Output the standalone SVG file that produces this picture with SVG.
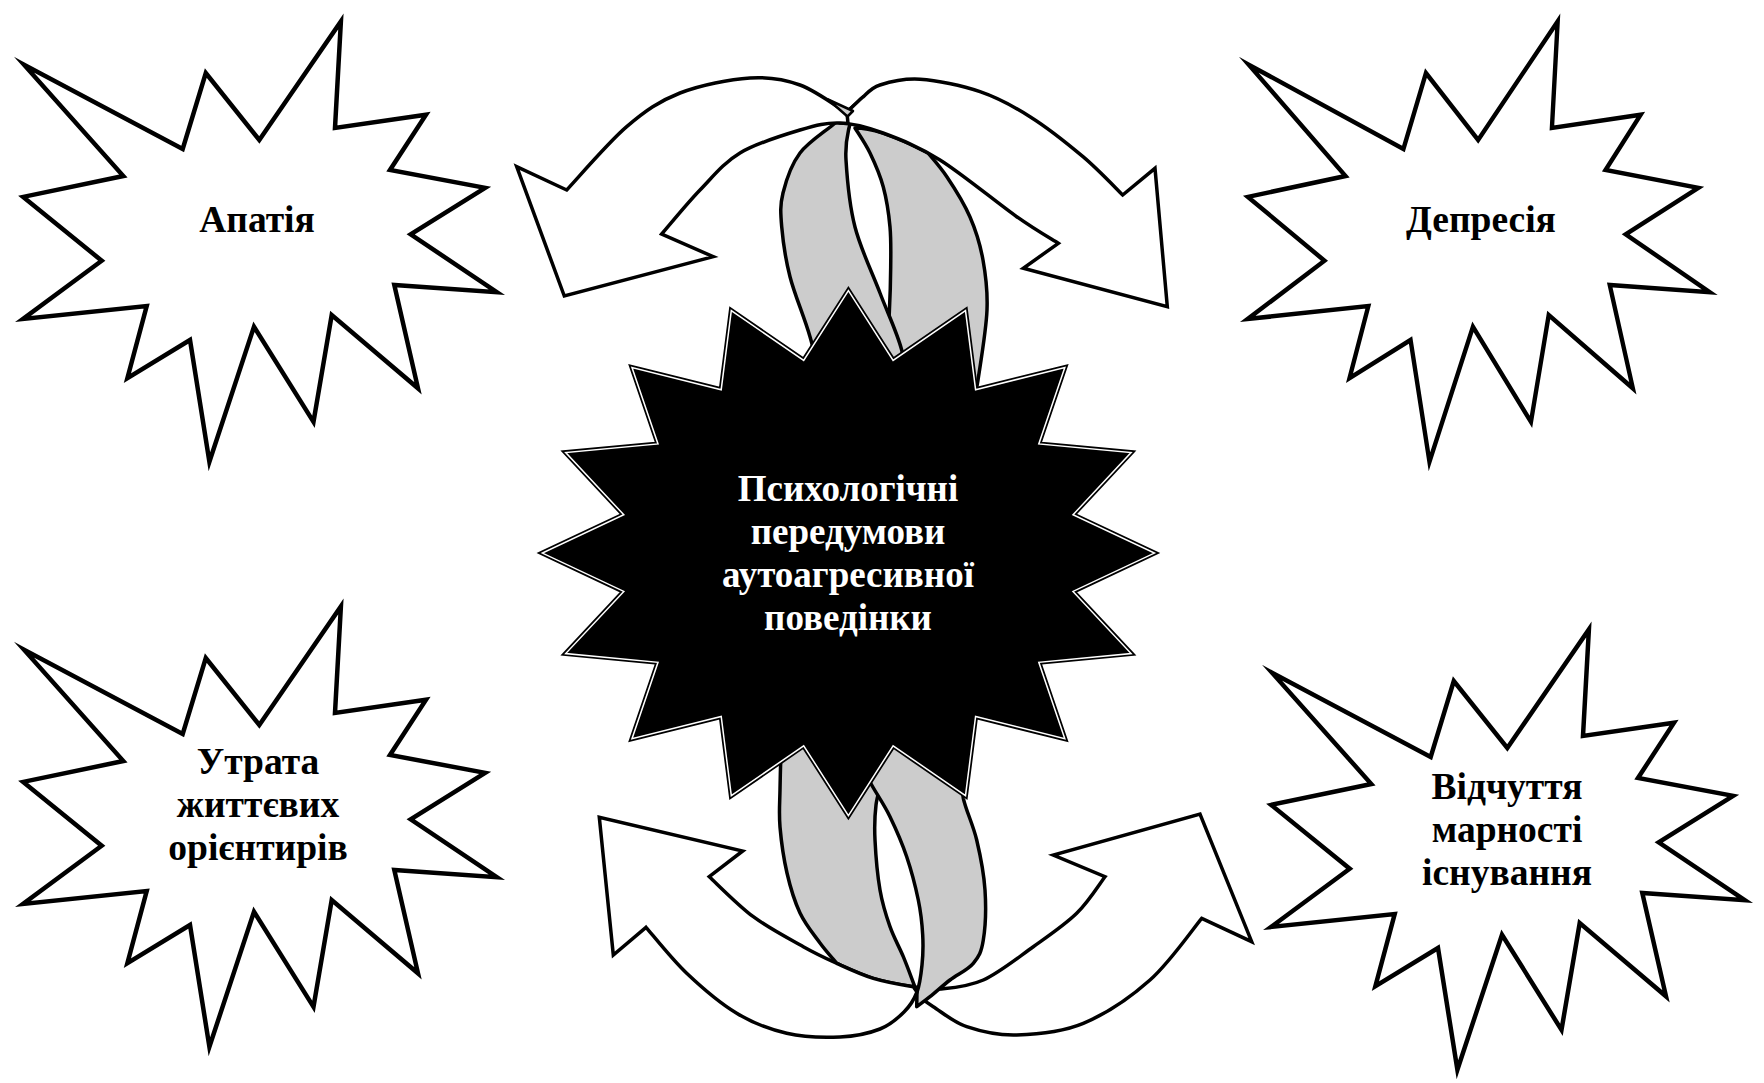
<svg xmlns="http://www.w3.org/2000/svg" width="1764" height="1083" viewBox="0 0 1764 1083">
<defs>
<style>
.st{fill:#fff;stroke:#000;stroke-width:4.5;stroke-linejoin:miter;stroke-miterlimit:10}
.ar{fill:#fff;stroke:#000;stroke-width:3.5;stroke-linejoin:miter;stroke-miterlimit:10}
.gr{fill:#ccc;stroke:#000;stroke-width:3.5;stroke-linejoin:round}
.t{font-family:"Liberation Serif","Times New Roman",serif;font-weight:bold;font-size:37.5px;text-anchor:middle;fill:#000}
.tw{font-family:"Liberation Serif","Times New Roman",serif;font-weight:bold;font-size:37px;text-anchor:middle;fill:#fff}
</style>
<polygon id="burst" points="24,64.7 182.7,149 205.8,73.1 259.3,140 340.9,21.4 335,128 426,114.7 390,170 485.1,187.8 410.7,234.3 496.8,292.2 394.3,285 418,388.3 331.7,315 313.5,421.9 254,326.7 209.4,461.8 190,340 127.4,378.1 146.7,306 23,319 101.7,260.7 23.2,196.9 123.3,176"/>
<polygon id="core" points="848.4,290.6 893.1,360.4 965.5,310.6 975.6,389.7 1064.8,367.5 1038.8,443.9 1131.1,452.6 1073,514.8 1154.4,553.1 1073,591.4 1131.1,653.6 1038.8,662.3 1064.8,738.7 975.6,716.5 965.5,795.6 893.1,745.8 848.4,815.6 803.7,745.8 731.3,795.6 721.2,716.5 632,738.7 658,662.3 565.7,653.6 623.8,591.4 542.4,553.1 623.8,514.8 565.7,452.6 658,443.9 632,367.5 721.2,389.7 731.3,310.6 803.7,360.4"/>
</defs>
<rect width="1764" height="1083" fill="#fff"/>
<g id="connectors">
<path class="gr" d="M 855,128 C 857.5,132.2 865.3,143.2 870,153 C 874.7,162.8 880,174.7 883.3,187 C 886.6,199.3 888.8,213.7 890,227 C 891.2,240.3 890.8,252.7 890.7,267 C 890.6,281.3 890.1,297.5 889.3,313 C 888.5,328.5 886.9,343.8 886,360 C 885.1,376.2 884.3,401.7 884,410 L 972,410 C 973,405 975.5,396.7 978,380 C 980.5,363.3 986.2,330 987,310 C 987.8,290 985.8,275.5 983,260 C 980.2,244.5 976,230.8 970,217 C 964,203.2 954.2,187.7 947,177 C 939.8,166.3 931.2,157 928,153 C 915,146 895,137 883,133 C 870,129 860,128 855,128 Z"/>
<path class="gr" d="M 863,97 C 855.8,103.1 847.2,112.4 836.7,121.7 C 826.2,131 809,141.1 800,153 C 791.1,164.9 786,180.7 783,193 C 780,205.3 780.5,212.7 781.7,226.7 C 782.9,240.7 785.3,258.4 790,276.7 C 794.7,295 804,316.1 810,336.7 C 816,357.3 823.3,389.4 826,400 L 908,400 C 907,391.7 906.4,367.8 901.7,350 C 897,332.2 887.8,313.5 880,293 C 872.2,272.5 860.7,249.2 855,227 C 849.3,204.8 847,176.5 846,160 C 845,143.5 847,137 849,128 C 851,119 856.5,109.7 858,106 Z"/>
<path class="ar" d="M 1122.7,195 L 1155,168.3 L 1167.3,306.7 L 1023.3,268.3 L 1058.3,243.3 C 1051.4,238.9 1036.4,230.6 1016.7,216.7 C 997,202.8 962.3,174 940,160 C 917.7,146 899.7,139.2 883,133 C 866.3,126.8 853.8,123.5 840,123 L 836.7,121.7 C 847.2,112.4 855.8,103.1 863,97 C 865.8,95 870.5,88 880,85 C 889.5,82 903.3,78.2 920,79.3 C 936.7,80.4 961.7,85.5 980,91.7 C 998.3,97.9 1012.8,105.9 1030,116.7 C 1047.2,127.5 1067.6,143.7 1083,156.7 C 1098.5,169.8 1116.1,188.6 1122.7,195 Z"/>
<path class="ar" d="M 566.7,190 L 516.7,166.7 L 564.3,296 L 713.3,256.7 L 661.7,234 C 668.1,226.7 686.9,203.5 700,190 C 713.05,176.5 723.3,163 740,153 C 756.7,143 783.3,135 800,130 C 816.7,125 826.2,122.5 840,123 L 848,123.5 L 847,113 C 839.2,108.3 816.2,90.8 800,85 C 783.8,79.2 770,76.7 750,78 C 730,79.3 700.6,84.9 680,93 C 659.4,101.1 645.6,110.5 626.7,126.7 C 607.8,142.9 576.7,179.5 566.7,190 Z"/>
<path d="M 828,99.5 L 853,111 L 847.5,116.5 Q 839,109 828,99.5 Z" fill="#ccc" stroke="#000" stroke-width="2.5" stroke-linejoin="round"/>
<path class="ar" d="M 1201.7,918.3 L 1251.7,941.7 L 1200,814 L 1053.3,855 L 1105,876.7 C 1100.3,882.8 1088.7,901.6 1076.7,913.3 C 1064.7,925 1048.9,935.6 1033.3,946.7 C 1017.7,957.8 998.9,973 983.3,980 C 967.7,987 951.7,987.9 940,989 C 928.3,990.1 924.4,988.5 913.3,986.7 L 918,996 C 920.6,997.8 925.2,1001.6 933.3,1006.7 C 941.4,1011.8 952.8,1021.9 966.7,1026.7 C 980.6,1031.4 997.3,1035.6 1016.7,1035 C 1036.1,1034.4 1061.1,1032.5 1083.3,1023.3 C 1105.5,1014.1 1130.3,997.5 1150,980 C 1169.7,962.5 1193.1,928.6 1201.7,918.3 Z"/>
<path class="gr" d="M 781,735 L 781,750 C 780.8,756.7 780.2,777.2 780,790 C 779.8,802.8 778.8,813.2 780,827 C 781.2,840.8 783.7,858.7 787,873 C 790.3,887.3 794.5,901.3 800,913 C 805.5,924.7 813.9,934.6 820,943 C 826.1,951.4 833.9,959.7 836.7,963.3 C 848.4,968.6 860.5,974.4 873.3,978.3 C 886.1,982.2 902.2,984.9 913.3,986.7 L 915,987 C 913,982 907.5,966.8 903.3,956.7 C 899.1,946.6 893.9,937.8 890,926.7 C 886.1,915.6 882.5,904.5 880,890 C 877.5,875.5 875.7,854.2 875,840 C 874.3,825.8 874.8,815 876,805 C 877.2,795 880,789.2 882,780 C 884,770.8 887,755 888,750 L 888,735 Z"/>
<path class="gr" d="M 855,740 L 858,760 C 860.3,764.2 866.4,775.6 871.7,785 C 877,794.5 884.2,804.7 890,816.7 C 895.8,828.7 902,842.8 906.7,856.7 C 911.4,870.6 915.6,887 918.3,900 C 921,913 922.1,924.2 922.7,935 C 923.3,945.8 923,955.5 922,965 C 921,974.5 920,984.2 917,992 L 916.7,1006.7 C 918.9,1005 924.4,1001.2 930,996.7 C 935.6,992.2 942.8,985.6 950,980 C 957.2,974.4 967.8,970 973.3,963.3 C 978.9,956.6 981.4,952.2 983.3,940 C 985.3,927.8 986.1,906.7 985,890 C 983.9,873.3 980.3,855.3 976.7,840 C 973.1,824.7 966.4,811.6 963.3,798.3 C 961.5,785.6 958.9,766.4 958,760 L 960,740 Z"/>
<path class="ar" d="M 646,927.3 L 613.3,955 L 599.3,817.3 L 742.7,851 L 709.3,876.7 C 716.6,883.4 737.6,905 753.3,916.7 C 769,928.4 789.4,938.9 803.3,946.7 C 817.2,954.5 825,958 836.7,963.3 C 848.4,968.6 860.5,974.4 873.3,978.3 C 886.1,982.2 902.2,984.9 913.3,986.7 L 917,992 C 914,999.8 910.2,1005.8 904,1012 C 897.8,1018.2 890.7,1024.8 880,1029 C 869.3,1033.2 855.6,1036.3 840,1037 C 824.5,1037.7 803.9,1037.3 786.7,1033.3 C 769.5,1029.4 753.4,1023.3 736.7,1013.3 C 720,1003.3 701.8,987.6 686.7,973.3 C 671.6,959 652.8,935 646,927.3 Z"/>
</g>
<g id="node-center">
<use href="#core" fill="#000" stroke="#000" stroke-width="5" stroke-linejoin="miter"/>
<use href="#core" fill="none" stroke="#fff" stroke-width="1.5" stroke-linejoin="miter"/>
<text class="tw" x="848" y="501">Психологічні</text>
<text class="tw" x="848" y="544">передумови</text>
<text class="tw" x="848" y="587">аутоагресивної</text>
<text class="tw" x="848" y="630">поведінки</text>
</g>
<g id="node-apatia">
<use href="#burst" class="st"/>
<text class="t" x="257" y="232">Апатія</text>
</g>
<g id="node-depresiia">
<use href="#burst" class="st" transform="matrix(0.975 0 0 1 1225.3 0)"/>
<text class="t" x="1481" y="232">Депресія</text>
</g>
<g id="node-utrata">
<use href="#burst" class="st" transform="translate(0,585)"/>
<text class="t" x="258" y="774">Утрата</text>
<text class="t" x="258" y="817">життєвих</text>
<text class="t" x="258" y="860">орієнтирів</text>
</g>
<g id="node-vidchuttia">
<use href="#burst" class="st" transform="translate(1248,608)"/>
<text class="t" x="1507" y="799">Відчуття</text>
<text class="t" x="1507" y="842">марності</text>
<text class="t" x="1507" y="885">існування</text>
</g>
</svg>
